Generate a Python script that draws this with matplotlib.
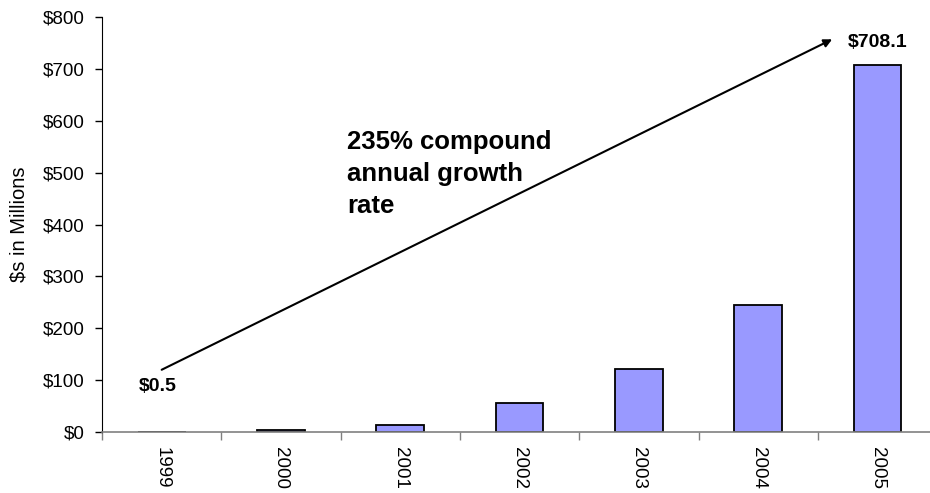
import numpy as np
import matplotlib.pyplot as plt
from matplotlib.ticker import FixedLocator, FuncFormatter

years = ['1999', '2000', '2001', '2002', '2003', '2004', '2005']
revenue = [0.5, 3, 14, 55, 122, 244, 708.1]  # $ millions
y_ticks = np.arange(0, 801, 100)
growth_text = '235% compound\nannual growth\nrate'

plt.rcParams['font.family'] = ['Liberation Sans', 'DejaVu Sans']

fig = plt.figure(figsize=(9.3, 4.93), dpi=100)
ax = fig.add_axes([0.1097, 0.1237, 0.898, 0.8418])

x = np.arange(len(years))
ax.bar(x, revenue, width=0.4, color='#9999FF', edgecolor='black', linewidth=1.3, zorder=2)

ax.set_xlim(-0.5, len(years) - 0.5)
ax.set_ylim(0, 800)

# category separators as major ticks, year labels on minor ticks
ax.xaxis.set_major_locator(FixedLocator(np.arange(-0.5, len(years), 1)))
ax.xaxis.set_major_formatter(FuncFormatter(lambda v, p: ''))
ax.xaxis.set_minor_locator(FixedLocator(x))
ax.set_xticklabels(years, minor=True, rotation=270, fontsize=13.5)
ax.tick_params(axis='x', which='major', direction='out', length=5.5, width=1, color='#808080')
ax.tick_params(axis='x', which='minor', length=0, pad=11)

ax.set_yticks(y_ticks)
ax.set_yticklabels(['$%d' % v for v in y_ticks], fontsize=13.5)
ax.tick_params(axis='y', direction='out', length=4.8, width=1, color='black', pad=8)

ax.set_ylabel('$s in Millions', fontsize=14.5, va='center')
ax.yaxis.set_label_coords(-0.0994, 0.5)

for side in ['top', 'right']:
    ax.spines[side].set_visible(False)
ax.spines['left'].set_color('black')
ax.spines['bottom'].set_color('#808080')
ax.spines['bottom'].set_linewidth(1.2)

# growth arrow from first to last year
ax.annotate('', xy=(5.62, 757), xytext=(0.0, 120),
            arrowprops=dict(arrowstyle='-|>', lw=1.5, color='black', mutation_scale=12,
                            shrinkA=0, shrinkB=0))

ax.text(-0.03, 87, '$%.1f' % revenue[0], ha='center', va='center',
        fontsize=14, fontweight='bold')
ax.annotate('$%.1f' % revenue[-1], xy=(x[-1], revenue[-1]), xytext=(0, 12.5),
            textcoords='offset points', ha='center', va='baseline',
            fontsize=14, fontweight='bold')

ax.text(1.556, 582, growth_text, ha='left', va='top', fontsize=18.5,
        fontweight='bold', linespacing=1.42)

fig.savefig('out.png', dpi=100)
